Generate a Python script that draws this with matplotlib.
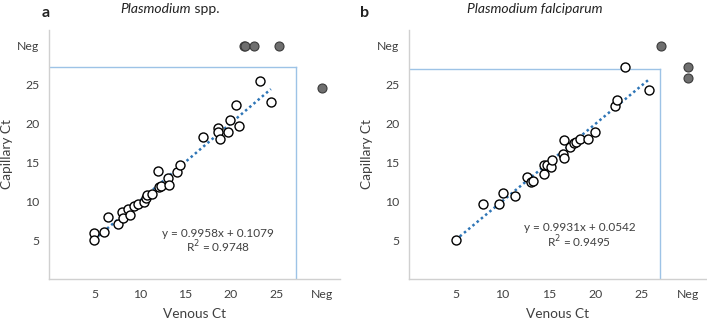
import numpy as np
import matplotlib.pyplot as plt

plt.rcParams['font.family'] = ['Lato', 'DejaVu Sans']

NEG = 30  # position used for "Neg" results

# panel a: Plasmodium spp. (venous, capillary)
a_ven = [5.0, 5.0, 6.0, 6.5, 7.6, 8.0, 8.15, 8.7, 8.9, 9.3, 9.75, 10.5, 10.7, 10.8,
         11.3, 12.0, 12.07, 12.3, 13.05, 13.25, 14.05, 14.45, 16.9, 18.55, 18.55,
         18.85, 19.7, 19.9, 20.6, 20.9, 23.2, 24.4]
a_cap = [5.9, 5.0, 6.0, 8.0, 7.1, 8.55, 7.9, 9.0, 8.2, 9.35, 9.6, 9.9, 10.35, 10.8,
         10.9, 13.85, 11.85, 12.0, 13.0, 12.1, 13.7, 14.6, 18.3, 19.45, 18.9,
         17.95, 18.9, 20.4, 22.3, 19.65, 25.4, 22.7]
a_neg_ven = [21.4, 21.6, 22.5, 25.3, NEG]
a_neg_cap = [NEG, NEG, NEG, NEG, 24.5]
a_fit = (0.9958, 0.1079)
a_r2 = 0.9748

# panel b: Plasmodium falciparum
b_ven = [5.0, 7.9, 9.7, 10.1, 11.35, 12.7, 13.15, 13.35, 14.5, 14.5, 14.85, 15.2,
         15.4, 16.5, 16.65, 16.6, 17.3, 17.7, 17.9, 18.4, 19.2, 19.95, 22.1, 22.3,
         23.2, 25.8]
b_cap = [5.0, 9.65, 9.7, 11.0, 10.7, 13.1, 12.5, 12.55, 13.45, 14.6, 14.6, 14.4,
         15.25, 16.0, 15.6, 17.9, 17.0, 17.5, 17.6, 18.05, 17.95, 18.85, 22.2, 23.0,
         27.2, 24.35]
b_neg_ven = [27.05, NEG, NEG]
b_neg_cap = [NEG, 27.2, 25.8]
b_fit = (0.9931, 0.0542)
b_r2 = 0.9495

ticks = [5, 10, 15, 20, 25, NEG]
tick_labels = ['5', '10', '15', '20', '25', 'Neg']

fig = plt.figure(figsize=(7.07, 3.23), dpi=100)
ax_a = fig.add_axes([0.0693, 0.1362, 0.4116, 0.771])
ax_b = fig.add_axes([0.5785, 0.1362, 0.4215, 0.771])

txt = '#404040'
panels = [
    (ax_a, a_ven, a_cap, a_neg_ven, a_neg_cap, a_fit, a_r2, 27.2, (18.6, 5.9, 4.1)),
    (ax_b, b_ven, b_cap, b_neg_ven, b_neg_cap, b_fit, b_r2, 27.0, (18.3, 6.6, 4.8)),
]

for ax, xv, yv, nx, ny, fit, r2, box, tpos in panels:
    ax.set_xlim(0, 32)
    ax.set_ylim(0, 32)
    for s in ['top', 'right']:
        ax.spines[s].set_visible(False)
    for s in ['left', 'bottom']:
        ax.spines[s].set_color('#d0d0d0')
        ax.spines[s].set_linewidth(1.0)
    ax.set_xticks(ticks)
    ax.set_xticklabels(tick_labels)
    ax.set_yticks(ticks)
    ax.set_yticklabels(tick_labels)
    ax.tick_params(length=0, labelsize=8.8, colors=txt, pad=7)

    # boundary of the detection range
    ax.plot([0, box], [box, box], color='#9dc3e6', lw=1.0, zorder=1)
    ax.plot([box, box], [0, box], color='#9dc3e6', lw=1.0, zorder=1)

    # linear fit
    xs = np.array([min(xv), max(xv)])
    ax.plot(xs, fit[0] * xs + fit[1], color='#2e75b6', lw=1.8, ls=(0, (1, 1.2)), zorder=2)

    ax.scatter(xv, yv, s=42, facecolor='white', edgecolor='black', linewidth=1.0, zorder=3)
    ax.scatter(nx, ny, s=42, facecolor='#6f6f6f', edgecolor='#3a3a3a', linewidth=0.8,
               zorder=3, clip_on=False)

    ax.text(tpos[0], tpos[1], 'y = %.4fx + %.4f' % fit, ha='center', va='center',
            fontsize=8.5, color=txt)
    ax.text(tpos[0], tpos[2], 'R$^2$ = %.4f' % r2, ha='center', va='center',
            fontsize=8.5, color=txt)

    ax.set_xlabel('Venous Ct', fontsize=9.8, color=txt, labelpad=6)
    ax.set_ylabel('Capillary Ct', fontsize=9.8, color=txt, labelpad=3)

fig.text(191 / 707, 1 - 9 / 323, 'Plasmodium', fontstyle='italic', fontsize=10,
         ha='right', va='center', color='#222222')
fig.text(191 / 707, 1 - 9 / 323, ' spp.', fontsize=10, ha='left', va='center',
         color='#222222')
fig.text(535 / 707, 1 - 9 / 323, 'Plasmodium falciparum', fontstyle='italic',
         fontsize=10, ha='center', va='center', color='#222222')
fig.text(46 / 707, 1 - 13 / 323, 'a', fontweight='bold', fontsize=11.5, ha='center',
         va='center', color='#222222')
fig.text(365 / 707, 1 - 13 / 323, 'b', fontweight='bold', fontsize=11.5, ha='center',
         va='center', color='#222222')

fig.savefig('out.png', dpi=100)
